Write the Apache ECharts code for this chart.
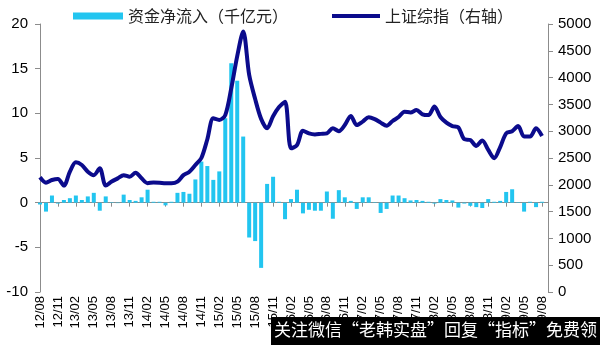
<!DOCTYPE html>
<html><head><meta charset="utf-8">
<script src="https://cdn.jsdelivr.net/npm/echarts@6/dist/echarts.min.js"></script>
<style>html,body{margin:0;padding:0;background:#fff}#c{width:600px;height:345px}</style>
</head><body><div id="c"></div>
<script>
// Monthly categories 2012/08 .. 2019/08 (plus one trailing blank slot)
const startYear = 2012, startMonth = 8, monthCount = 86;
const categories = [];
for (let k = 0; k < monthCount; k++) {
  const m = startMonth - 1 + k;
  const y = startYear + Math.floor(m / 12);
  const mm = (m % 12) + 1;
  categories.push(String(y % 100).padStart(2, '0') + '/' + String(mm).padStart(2, '0'));
}

const seriesNames = ['资金净流入（千亿元）', '上证综指（右轴）'];

// 资金净流入 (千亿元), monthly
const netInflow = [
  -0.2, -1.0, 0.8, -0.1, 0.3, 0.5, 0.8, 0.3, 0.7, 1.1,
  -0.9, 0.7, 0.05, -0.05, 0.9, 0.3, 0.2, 0.6, 1.45, 0.1,
  0.1, -0.3, 0.1, 1.1, 1.2, 1.0, 2.6, 4.6, 4.1, 2.55,
  3.5, 9.45, 15.6, 13.65, 7.4, -3.9, -4.3, -7.3, 2.1, 2.9,
  0.1, -1.85, 0.4, 1.45, -1.2, -0.8, -0.9, -0.9, 1.25, -1.8,
  1.4, 0.6, 0.2, -0.7, 0.6, 0.6, 0.05, -1.15, -0.7, 0.8,
  0.8, 0.5, 0.25, 0.3, 0.2, 0.1, -0.1, 0.4, 0.3, 0.25,
  -0.55, -0.1, -0.35, -0.5, -0.6, 0.4, 0.1, 0.2, 1.2, 1.5,
  0.05, -1.0, 0.1, -0.5, 0.1, null
];

// 上证综指 (右轴), monthly
const shIndex = [
  2140, 2040, 2090, 2110, 1985, 2245, 2420, 2370, 2245, 2180,
  2310, 1985, 2060, 2120, 2180, 2150, 2225, 2120, 2030, 2045,
  2040, 2030, 2030, 2060, 2180, 2245, 2370, 2500, 2850, 3240,
  3210, 3300, 3800, 4400, 4860, 4050, 3600, 3230, 3055, 3280,
  3450, 3550, 2680, 2740, 3010, 2960, 2940, 2950, 2960, 3055,
  3000, 3115, 3285, 3115, 3180, 3260, 3225, 3160, 3100, 3190,
  3265, 3365, 3350, 3395, 3315, 3300, 3460, 3265, 3160, 3095,
  3070, 2850, 2835, 2725, 2825, 2650, 2495, 2705, 2960, 3000,
  3095, 2900, 2900, 3055, 2910, null
];

const leftAxis = { min: -10, max: 20, interval: 5 };
const rightAxis = { min: 0, max: 5000, interval: 500 };
const bannerText = '关注微信“老韩实盘”回复“指标”免费领';

const barColor = '#22c5f0';
const lineColor = '#0b0b8c';
const axisGray = '#8c8c8c';
const numFont = 'Liberation Sans';
const cjkFont = 'Noto Sans CJK SC';

const chart = echarts.init(document.getElementById('c'), null, { renderer: 'canvas' });
chart.setOption({
  animation: false,
  backgroundColor: '#fff',
  grid: { left: 40, right: 52, top: 24, bottom: 53, containLabel: false },
  legend: [
    { data: [seriesNames[0]], left: 68, top: 3, icon: 'rect', itemWidth: 50, itemHeight: 7, itemGap: 5,
      textStyle: { fontSize: 16, color: '#222', fontFamily: cjkFont } },
    { data: [seriesNames[1]], left: 327, top: 3, icon: 'rect', itemWidth: 48, itemHeight: 4, itemGap: 5,
      textStyle: { fontSize: 16, color: '#222', fontFamily: cjkFont } }
  ],
  xAxis: [
    { type: 'category', data: categories, boundaryGap: false, position: 'bottom',
      axisLine: { show: false, onZero: false }, axisTick: { show: false },
      axisLabel: { rotate: 90, interval: 2, margin: 4, fontSize: 13, color: '#000', fontFamily: numFont },
      splitLine: { show: false } },
    { type: 'category', data: categories, boundaryGap: false, position: 'bottom',
      axisLine: { show: true, onZero: true, lineStyle: { color: axisGray, width: 1 } },
      axisTick: { show: true, interval: 2, length: 4, lineStyle: { color: axisGray } },
      axisLabel: { show: false }, splitLine: { show: false } }
  ],
  yAxis: [
    { type: 'value', position: 'left', min: leftAxis.min, max: leftAxis.max, interval: leftAxis.interval,
      axisLine: { show: true, onZero: false, lineStyle: { color: axisGray } },
      axisTick: { show: true, length: 5, lineStyle: { color: axisGray } },
      axisLabel: { fontSize: 15, color: '#000', margin: 12, fontFamily: numFont, formatter: v => String(v) },
      splitLine: { show: false } },
    { type: 'value', position: 'right', min: rightAxis.min, max: rightAxis.max, interval: rightAxis.interval,
      axisLine: { show: true, onZero: false, lineStyle: { color: axisGray } },
      axisTick: { show: true, length: 5, lineStyle: { color: axisGray } },
      axisLabel: { fontSize: 15, color: '#000', margin: 10, fontFamily: numFont, formatter: v => String(v) },
      splitLine: { show: false } }
  ],
  series: [
    { name: seriesNames[0], type: 'bar', data: netInflow, xAxisIndex: 0, yAxisIndex: 0,
      barWidth: 4, itemStyle: { color: barColor }, clip: false },
    { name: seriesNames[1], type: 'line', data: shIndex, xAxisIndex: 0, yAxisIndex: 1,
      smooth: 0.3, showSymbol: false, symbol: 'none',
      lineStyle: { color: lineColor, width: 4 }, itemStyle: { color: lineColor }, z: 5 }
  ],
  graphic: [
    { type: 'rect', left: 271, top: 317, z: 100, shape: { width: 329, height: 28 }, style: { fill: '#000' } },
    { type: 'text', left: 274, top: 321, z: 101,
      style: { text: bannerText, fill: '#fff', fontSize: 17, fontFamily: cjkFont } }
  ]
});
</script>
</body></html>
